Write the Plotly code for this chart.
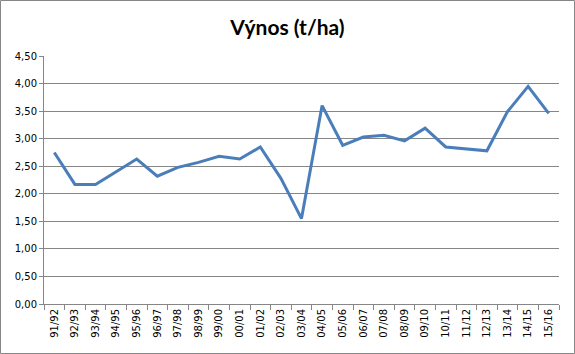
import plotly.graph_objects as go

categories = ["91/92", "92/93", "93/94", "94/95", "95/96", "96/97", "97/98", "98/99",
              "99/00", "00/01", "01/02", "02/03", "03/04", "04/05", "05/06", "06/07",
              "07/08", "08/09", "09/10", "10/11", "11/12", "12/13", "13/14", "14/15", "15/16"]
vynos = [2.75, 2.17, 2.17, 2.40, 2.63, 2.32, 2.48, 2.57, 2.68, 2.63, 2.85, 2.28,
         1.55, 3.60, 2.88, 3.03, 3.06, 2.96, 3.19, 2.85, 2.81, 2.78, 3.49, 3.95, 3.46]
y_ticks = [0, 0.5, 1.0, 1.5, 2.0, 2.5, 3.0, 3.5, 4.0, 4.5]

W, H = 575, 354
ml, mr, mt, mb = 44, 16, 56, 50

fig = go.Figure(go.Scatter(x=categories, y=vynos, mode="lines",
                           line=dict(color="#4a7ebb", width=3)))

pw = W - ml - mr
ph = H - mt - mb
fig.add_shape(type="rect", xref="paper", yref="paper",
              x0=(-ml + 0.5) / pw, x1=(W - ml - 0.5) / pw,
              y0=(-mb + 0.5) / ph, y1=(H - mb - 0.5) / ph,
              line=dict(color="#868686", width=1), layer="below")

fig.update_layout(
    width=W, height=H,
    margin=dict(l=ml, r=mr, t=mt, b=mb, autoexpand=False),
    paper_bgcolor="white", plot_bgcolor="white",
    separators=", ",
    showlegend=False,
    title=dict(text="<b>Výnos (t/ha)</b>", x=0.5, xanchor="center", y=1 - 28 / H, yanchor="middle",
               font=dict(family="Lato", size=21, color="black")),
    xaxis=dict(type="category", range=[-0.5, len(categories) - 0.5], automargin=False,
               tickson="boundaries", ticks="outside", ticklen=5,
               tickcolor="#868686", showline=True, linecolor="#868686", linewidth=1,
               showgrid=False, tickangle=-90,
               tickfont=dict(family="DejaVu Sans", size=10, color="black")),
    yaxis=dict(range=[0, 4.5], tickvals=y_ticks, tickformat=".2f", ticks="outside", ticklen=4,
               automargin=False,
               tickcolor="#868686", showline=True, linecolor="#868686", linewidth=1,
               showgrid=True, gridcolor="#868686", gridwidth=1, zeroline=False,
               tickfont=dict(family="DejaVu Sans", size=10, color="black")),
)

fig.write_html("out.html", config={"displayModeBar": False},
               post_script="document.body.style.margin='0';")
